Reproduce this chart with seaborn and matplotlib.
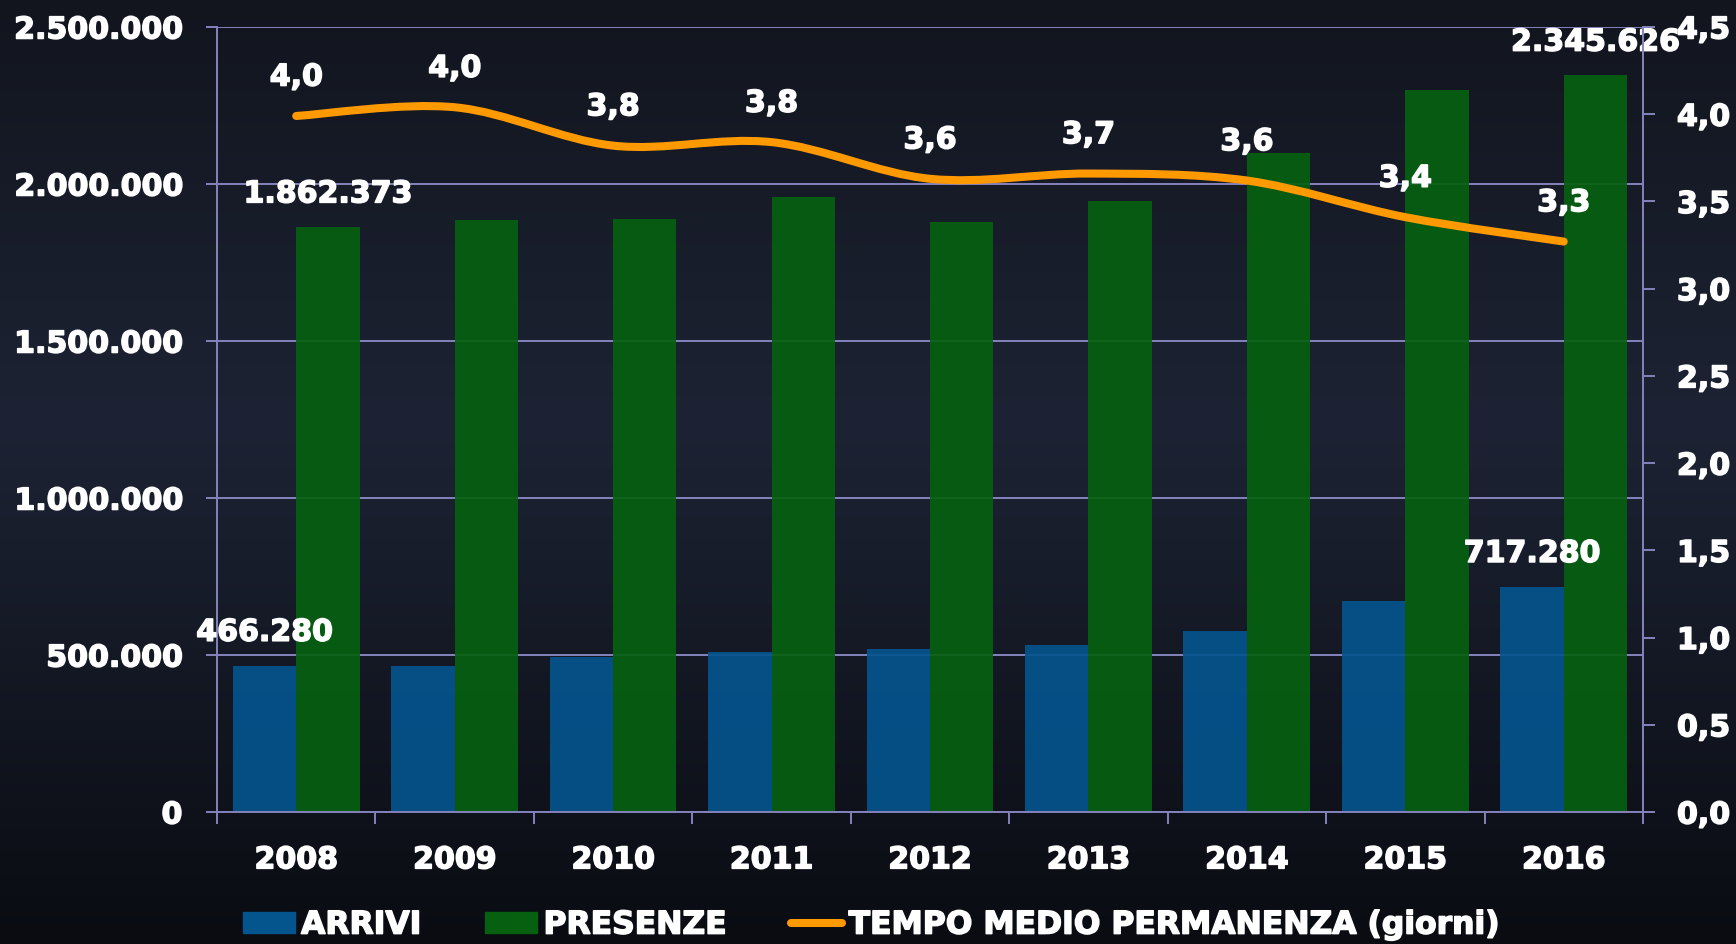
import numpy as np
import pandas as pd
import seaborn as sns
import matplotlib.pyplot as plt
import matplotlib.patheffects as pe
from matplotlib.path import Path
from matplotlib.patches import PathPatch, Patch
from matplotlib.lines import Line2D
from matplotlib.colors import LinearSegmentedColormap
from matplotlib.ticker import FuncFormatter, MultipleLocator

# ========= dati =========
anni = ['2008', '2009', '2010', '2011', '2012', '2013', '2014', '2015', '2016']
arrivi = [466280, 465000, 494000, 511000, 518000, 532000, 578000, 673000, 717280]
presenze = [1862373, 1886000, 1890000, 1960000, 1879000, 1946000, 2098000, 2299000, 2345626]
permanenza = [3.99, 4.04, 3.82, 3.84, 3.63, 3.66, 3.62, 3.41, 3.27]

serie_nomi = ['ARRIVI', 'PRESENZE']
linea_nome = 'TEMPO MEDIO PERMANENZA (giorni)'

# ========= stile =========
col_arrivi = '#04548e'
col_presenze = '#066010'
col_linea = '#ff9900'
col_griglia = '#8583bd'
col_testo = 'white'
fs = 21.6
# testo un po' più "pesante" come nell'originale
spesso = [pe.withStroke(linewidth=1.1, foreground=col_testo)]

plt.rcParams['font.family'] = ['DejaVu Sans']
plt.rcParams['font.weight'] = 'bold'

df = pd.DataFrame({
    'Anno': anni * 2,
    'Serie': [serie_nomi[0]] * len(anni) + [serie_nomi[1]] * len(anni),
    'Valore': arrivi + presenze,
})

fig = plt.figure(figsize=(17.36, 9.44), dpi=100)

# sfondo sfumato
bg = fig.add_axes([0, 0, 1, 1], zorder=-10)
cmap = LinearSegmentedColormap.from_list('bg', [(0, '#12151e'), (0.45, '#1d2334'), (1, '#0a0c12')])
bg.imshow(np.linspace(0, 1, 256).reshape(-1, 1), aspect='auto', cmap=cmap, extent=(0, 1, 0, 1))
bg.axis('off')

ax = fig.add_axes([0.125, 0.1398, 0.9464 - 0.125, 0.9714 - 0.1398])
ax.set_facecolor('none')

sns.barplot(data=df, x='Anno', y='Valore', hue='Serie', hue_order=serie_nomi,
            palette={serie_nomi[0]: col_arrivi, serie_nomi[1]: col_presenze},
            width=0.8, saturation=1, alpha=0.92, legend=False, ax=ax)

ax.set_xlim(-0.5, len(anni) - 0.5)
ax.set_ylim(0, 2500000)
ax.yaxis.set_major_locator(MultipleLocator(500000))
ax.yaxis.set_major_formatter(FuncFormatter(lambda v, p: f"{int(v):,}".replace(',', '.')))
ax.set_xlabel('')
ax.set_ylabel('')

ax.yaxis.grid(True, color=col_griglia, linewidth=1.4)
ax.xaxis.grid(False)
ax.set_axisbelow(True)

ax.tick_params(axis='y', length=8, width=1.4, color=col_griglia, pad=17,
               labelsize=fs, labelcolor=col_testo)
ax.tick_params(axis='x', which='major', length=0, pad=24, labelsize=fs, labelcolor=col_testo)
ax.set_xticks(np.arange(-0.5, len(anni), 1), minor=True)
ax.tick_params(axis='x', which='minor', length=8.5, width=1.4, color=col_griglia)

for s in ['top', 'right']:
    ax.spines[s].set_visible(False)
for s in ['left', 'bottom']:
    ax.spines[s].set_color(col_griglia)
    ax.spines[s].set_linewidth(1.4)

# etichette barre (solo primo e ultimo anno)
for cont in ax.containers:
    for idx in [0, len(anni) - 1]:
        r = cont[idx]
        ax.annotate(f"{int(r.get_height()):,}".replace(',', '.'),
                    (r.get_x() + r.get_width() / 2, r.get_height()),
                    xytext=(0, 24), textcoords='offset points',
                    ha='center', va='center', color=col_testo, fontsize=fs,
                    fontweight='bold', path_effects=spesso)

# asse secondario: tempo medio permanenza
ax2 = ax.twinx()
ax2.set_facecolor('none')
ax2.set_ylim(0, 4.5)
ax2.yaxis.set_major_locator(MultipleLocator(0.5))
ax2.yaxis.set_major_formatter(FuncFormatter(lambda v, p: f"{v:.1f}".replace('.', ',')))
ax2.tick_params(axis='y', length=8.5, width=1.4, color=col_griglia, pad=16,
                labelsize=fs, labelcolor=col_testo)
for s in ['top', 'left', 'bottom']:
    ax2.spines[s].set_visible(False)
ax2.spines['right'].set_color(col_griglia)
ax2.spines['right'].set_linewidth(1.4)

# linea smussata (curva di Bezier tipo Excel)
pts = np.column_stack([np.arange(len(anni)), permanenza]).astype(float)
n = len(pts)
verts = [tuple(pts[0])]
codes = [Path.MOVETO]
for i in range(n - 1):
    p0 = pts[i - 1] if i > 0 else pts[i]
    p3 = pts[i + 2] if i + 2 < n else pts[i + 1]
    c1 = pts[i] + (pts[i + 1] - p0) / 6
    c2 = pts[i + 1] - (p3 - pts[i]) / 6
    verts += [tuple(c1), tuple(c2), tuple(pts[i + 1])]
    codes += [Path.CURVE4] * 3
ax2.add_patch(PathPatch(Path(verts, codes), fill=False, edgecolor=col_linea,
                        linewidth=5.8, capstyle='round', joinstyle='round'))

for i, v in enumerate(permanenza):
    ax2.annotate(f"{v:.1f}".replace('.', ','), (i, v), xytext=(0, 28),
                 textcoords='offset points', ha='center', va='center',
                 color=col_testo, fontsize=fs, fontweight='bold', path_effects=spesso)

# legenda
handles = [Patch(color=col_arrivi), Patch(color=col_presenze),
           Line2D([], [], color=col_linea, linewidth=5.8, solid_capstyle='round')]
leg = fig.legend(handles, serie_nomi + [linea_nome], loc='center left',
                 bbox_to_anchor=(243 / 1736, 0.02), ncol=3, frameon=False,
                 prop={'weight': 'bold', 'size': 22.6}, labelcolor=col_testo,
                 handlelength=1.65, handleheight=0.66, handletextpad=0.2,
                 columnspacing=2.05, borderpad=0, borderaxespad=0)

for t in leg.get_texts() + ax.get_xticklabels() + ax.get_yticklabels() + ax2.get_yticklabels():
    t.set_path_effects(spesso)

fig.savefig('out.png', dpi=100)
